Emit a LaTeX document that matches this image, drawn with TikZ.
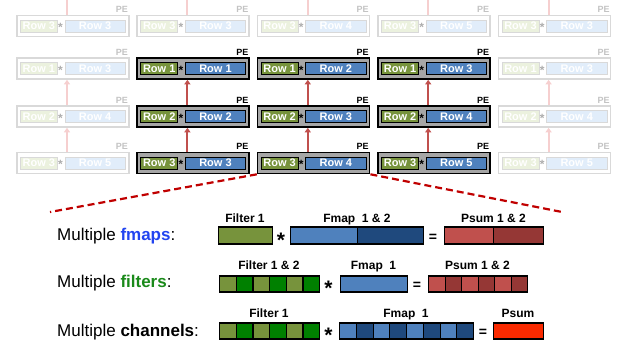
\documentclass[tikz,border=0pt]{standalone}
\usepackage{fontspec}
\setmainfont{Liberation Sans}
\usetikzlibrary{arrows.meta}
\definecolor{olivegr}{HTML}{77933C}
\definecolor{dgreen}{HTML}{008000}
\definecolor{lblue}{HTML}{4F81BD}
\definecolor{dblue}{HTML}{1F497D}
\definecolor{lred}{HTML}{C0504D}
\definecolor{dred}{HTML}{953735}
\definecolor{psumred}{HTML}{FA2A00}
\definecolor{actgray}{HTML}{A6A6A6}
\definecolor{fadeline}{HTML}{D9D9D9}
\definecolor{fadegreen}{HTML}{EBF1DE}
\definecolor{fadeblue}{HTML}{E1EDFA}
\definecolor{fadearrow}{HTML}{F6CFCF}
\definecolor{dashred}{HTML}{C00000}
\definecolor{fmapsblue}{HTML}{2244F0}
\definecolor{filtgreen}{HTML}{1A8A1A}
\tikzset{
  pebox-act/.style={draw=black, fill=actgray, line width=1.6pt, minimum width=112pt, minimum height=21pt, inner sep=0pt},
  pebox-fad/.style={draw=fadeline, fill=white, line width=1.6pt, minimum width=112pt, minimum height=21pt, inner sep=0pt},
  rowf-act/.style={draw=black, fill=olivegr, line width=0.7pt, minimum width=37pt, minimum height=12.3pt, inner sep=0pt, text=white, font=\fontsize{11}{12}\selectfont\bfseries},
  rowf-fad/.style={draw=fadeline, fill=fadegreen, line width=0.7pt, minimum width=37pt, minimum height=12.3pt, inner sep=0pt, text=white, font=\fontsize{11}{12}\selectfont\bfseries},
  rowm-act/.style={draw=black, fill=lblue, line width=0.7pt, minimum width=60.5pt, minimum height=12.3pt, inner sep=0pt, text=white, font=\fontsize{11}{12}\selectfont\bfseries},
  rowm-fad/.style={draw=fadeline, fill=fadeblue, line width=0.7pt, minimum width=60.5pt, minimum height=12.3pt, inner sep=0pt, text=white, font=\fontsize{11}{12}\selectfont\bfseries},
  pestar-act/.style={inner sep=0pt, anchor=base, text=black, font=\fontsize{12}{12}\selectfont\bfseries},
  pestar-fad/.style={inner sep=0pt, anchor=base, text=fadeline!80!black, font=\fontsize{12}{12}\selectfont\bfseries},
  pelabel-act/.style={inner sep=0pt, text=black, font=\fontsize{9}{10}\selectfont\bfseries},
  pelabel-fad/.style={inner sep=0pt, text=fadeline!90!black, font=\fontsize{9}{10}\selectfont\bfseries},
  arr-act/.style={draw=lred, line width=2pt, -{Triangle[width=6pt,length=4.5pt]}},
  arr-fad/.style={draw=fadearrow, line width=2pt, -{Triangle[width=6pt,length=4.5pt]}},
  line-fad/.style={draw=fadearrow, line width=2pt},
  dashline/.style={draw=dashred, line width=2.2pt, dash pattern=on 7pt off 4pt},
  seg/.style={draw=black, line width=1.2pt, inner sep=0pt, anchor=west},
  barlabel/.style={inner sep=0pt, anchor=base, font=\fontsize{12}{14}\selectfont\bfseries},
  bigstar/.style={inner sep=0pt, anchor=base, font=\fontsize{21}{22}\selectfont\bfseries},
  eqsign/.style={inner sep=0pt, anchor=base, font=\fontsize{14}{16}\selectfont\bfseries},
  multlabel/.style={inner sep=0pt, anchor=base west, font=\fontsize{17}{20}\selectfont},
}
\newcommand{\PEnode}[6]{%
  \node[pebox-#4, anchor=west] (#1) at (#2,#3) {};
  \node[rowf-#4, anchor=west] (#1-f) at ([xshift=4pt]#1.west) {#5};
  \node[pestar-#4] (#1-s) at ([xshift=44.5pt,yshift=-5.6pt]#1.west) {*};
  \node[rowm-#4, anchor=west] (#1-m) at ([xshift=48.5pt]#1.west) {#6};
  \node[pelabel-#4, anchor=south east] (#1-pe) at ([xshift=-1.5pt,yshift=2pt]#1.north east) {PE};
}
\begin{document}
\begin{tikzpicture}[x=1pt,y=-1pt]
\useasboundingbox (0,0) rectangle (621,349);
% ---------- PE array ----------
% row 0 (faded)
\foreach \c/\r in {0/3,1/3,2/4,3/5,4/3} {
  \PEnode{pe-0-\c}{16+120.4*\c}{26}{fad}{Row 3}{Row \r}
}
% row 1
\PEnode{pe-1-0}{16}{68.5}{fad}{Row 1}{Row 3}
\PEnode{pe-1-1}{136.4}{68.5}{act}{Row 1}{Row 1}
\PEnode{pe-1-2}{256.8}{68.5}{act}{Row 1}{Row 2}
\PEnode{pe-1-3}{377.2}{68.5}{act}{Row 1}{Row 3}
\PEnode{pe-1-4}{497.6}{68.5}{fad}{Row 1}{Row 3}
% row 2
\PEnode{pe-2-0}{16}{116.5}{fad}{Row 2}{Row 4}
\PEnode{pe-2-1}{136.4}{116.5}{act}{Row 2}{Row 2}
\PEnode{pe-2-2}{256.8}{116.5}{act}{Row 2}{Row 3}
\PEnode{pe-2-3}{377.2}{116.5}{act}{Row 2}{Row 4}
\PEnode{pe-2-4}{497.6}{116.5}{fad}{Row 2}{Row 4}
% row 3
\PEnode{pe-3-0}{16}{163}{fad}{Row 3}{Row 5}
\PEnode{pe-3-1}{136.4}{163}{act}{Row 3}{Row 3}
\PEnode{pe-3-2}{256.8}{163}{act}{Row 3}{Row 4}
\PEnode{pe-3-3}{377.2}{163}{act}{Row 3}{Row 5}
\PEnode{pe-3-4}{497.6}{163}{fad}{Row 3}{Row 5}
% arrows
\foreach \c/\s in {0/fad,1/act,2/act,3/act,4/fad} {
  \draw[arr-\s] ([xshift=51pt]pe-3-\c.north west) -- ([xshift=51pt]pe-2-\c.south west);
  \draw[arr-\s] ([xshift=51pt]pe-2-\c.north west) -- ([xshift=51pt]pe-1-\c.south west);
}
\coordinate (topedge) at (0,0);
\foreach \c in {0,...,4} {
  \coordinate (tb\c) at ([xshift=51pt]pe-0-\c.north west);
  \coordinate (tt\c) at (tb\c |- topedge);
  \draw[line-fad] (tb\c) -- (tt\c);
}
% dashed zoom lines
\coordinate (dl) at (50,212);
\coordinate (dr) at (562,212);
\draw[dashline] (pe-3-2.south west) -- (dl);
\draw[dashline] (pe-3-2.south east) -- (dr);
% ---------- Row A: multiple fmaps ----------
\node[multlabel] (labA) at (57,240.5) {Multiple \textbf{\color{fmapsblue}fmaps}:};
\node[seg, fill=olivegr, minimum width=54pt, minimum height=17pt] (fA) at (218,235.5) {};
\node[bigstar] (sA) at (281,247.5) {*};
\node[seg, fill=lblue, minimum width=67pt, minimum height=17pt] (mA1) at (290,235.5) {};
\node[seg, fill=dblue, minimum width=66pt, minimum height=17pt] (mA2) at (357,235.5) {};
\node[eqsign] (eA) at (433,241) {=};
\node[seg, fill=lred, minimum width=49pt, minimum height=17pt] (pA1) at (444,235.5) {};
\node[seg, fill=dred, minimum width=50pt, minimum height=17pt] (pA2) at (493,235.5) {};
\node[barlabel] (lfA) at (245,222) {Filter 1};
\node[barlabel] (lmA) at (357,222) {Fmap~~1 \& 2};
\node[barlabel] (lpA) at (493.5,222) {Psum 1 \& 2};
% ---------- Row B: multiple filters ----------
\node[multlabel] (labB) at (57,287.5) {Multiple \textbf{\color{filtgreen}filters}:};
\foreach \i/\cc in {0/olivegr,1/dgreen,2/olivegr,3/dgreen,4/olivegr,5/dgreen} {
  \node[seg, fill=\cc, minimum width=16.667pt, minimum height=16pt] (fB\i) at (219+\i*16.667,284) {};
}
\node[bigstar] (sB) at (328.5,295) {*};
\node[seg, fill=lblue, minimum width=67pt, minimum height=16pt] (mB) at (340,284) {};
\node[eqsign] (eB) at (417,289.5) {=};
\foreach \i/\cc in {0/lred,1/dred,2/lred,3/dred,4/lred,5/dred} {
  \node[seg, fill=\cc, minimum width=16.5pt, minimum height=16pt] (pB\i) at (428+\i*16.5,284) {};
}
\node[barlabel] (lfB) at (269,269) {Filter 1 \& 2};
\node[barlabel] (lmB) at (373.5,269) {Fmap~~1};
\node[barlabel] (lpB) at (477.5,269) {Psum 1 \& 2};
% ---------- Row C: multiple channels ----------
\node[multlabel] (labC) at (57,336) {Multiple \textbf{channels}:};
\foreach \i/\cc in {0/olivegr,1/dgreen,2/olivegr,3/dgreen,4/olivegr,5/dgreen} {
  \node[seg, fill=\cc, minimum width=16.667pt, minimum height=16pt] (fC\i) at (219+\i*16.667,331) {};
}
\node[bigstar] (sC) at (328.5,342) {*};
\foreach \i/\cc in {0/lblue,1/dblue,2/lblue,3/dblue,4/lblue,5/dblue,6/lblue,7/dblue} {
  \node[seg, fill=\cc, minimum width=16.75pt, minimum height=16pt] (mC\i) at (339+\i*16.75,331) {};
}
\node[eqsign] (eC) at (483,336.5) {=};
\node[seg, fill=psumred, minimum width=50pt, minimum height=16pt] (pC) at (493,331) {};
\node[barlabel] (lfC) at (269,317.3) {Filter 1};
\node[barlabel] (lmC) at (406,317.3) {Fmap~~1};
\node[barlabel] (lpC) at (518,317.3) {Psum};
\end{tikzpicture}
\end{document}
